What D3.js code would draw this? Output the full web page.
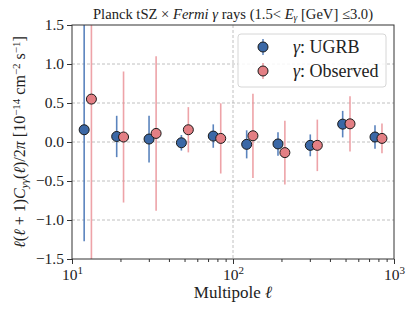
<!DOCTYPE html>
<html>
<head>
<meta charset="utf-8">
<script src="https://cdn.jsdelivr.net/npm/d3@7"></script>
<style>
  body { margin: 0; background: #fff; }
  svg text { font-family: "Liberation Serif", "DejaVu Serif", serif; fill: #222; }
</style>
</head>
<body>
<svg id="chart" width="415" height="312"></svg>
<script>
(function() {
  'use strict';

  // multipole bin centres for each sample (observed offset a little to the right)
  var ellUGRB = [11.9, 18.95, 30.1, 47.8, 75.4, 121.6, 190.3, 302, 480, 762];
  var ellObs  = [13.2, 20.9, 33.3, 52.8, 83.9, 133, 210, 334, 533, 842];

  var valUGRB = [0.157, 0.071, 0.038, -0.01, 0.076, -0.03, -0.025, -0.043, 0.229, 0.064];
  var errUGRB = [1.43, 0.265, 0.30, 0.10, 0.15, 0.18, 0.15, 0.14, 0.17, 0.15];

  var valObs = [0.55, 0.064, 0.11, 0.157, 0.046, 0.08, -0.136, -0.043, 0.233, 0.046];
  var errObs = [2.2, 0.84, 0.99, 0.29, 0.45, 0.54, 0.41, 0.33, 0.355, 0.19];

  var yTicks = [-1.5, -1.0, -0.5, 0.0, 0.5, 1.0, 1.5];
  var xTicks = [10, 100, 1000];

  var W = 415, H = 312;
  var margin = {top: 25, right: 21, bottom: 53, left: 72};
  var iw = W - margin.left - margin.right;
  var ih = H - margin.top - margin.bottom;

  var svg = d3.select("#chart");
  var g = svg.append("g")
    .attr("transform", "translate(" + margin.left + "," + margin.top + ")");

  var x = d3.scaleLog().domain([10, 1000]).range([0, iw]);
  var y = d3.scaleLinear().domain([-1.5, 1.5]).range([ih, 0]);

  svg.append("defs").append("clipPath").attr("id", "plotclip")
    .append("rect").attr("width", iw).attr("height", ih);

  // grid
  var grid = g.append("g").attr("class", "grid");
  grid.selectAll("line.gy").data(yTicks.slice(1, -1)).enter().append("line")
    .attr("x1", 0).attr("x2", iw)
    .attr("y1", function(d) { return y(d); }).attr("y2", function(d) { return y(d); })
    .attr("stroke", "#b0b0b0").attr("stroke-width", 0.8).attr("stroke-dasharray", "3,2");
  grid.selectAll("line.gx").data([100]).enter().append("line")
    .attr("y1", 0).attr("y2", ih)
    .attr("x1", function(d) { return x(d); }).attr("x2", function(d) { return x(d); })
    .attr("stroke", "#b0b0b0").attr("stroke-width", 0.8).attr("stroke-dasharray", "3,2");

  // error bars + points
  var series = [
    {ell: ellUGRB, val: valUGRB, err: errUGRB, bar: "#3f6fb3", fill: "#3b68a6"},
    {ell: ellObs, val: valObs, err: errObs, bar: "#ea8d93", fill: "#e37f84"}
  ];

  var plot = g.append("g").attr("clip-path", "url(#plotclip)");
  series.forEach(function(s, k) {
    var rows = s.ell.map(function(l, i) { return {l: l, v: s.val[i], e: s.err[i]}; });
    var sg = plot.append("g");
    sg.selectAll("line").data(rows).enter().append("line")
      .attr("x1", function(d) { return x(d.l); }).attr("x2", function(d) { return x(d.l); })
      .attr("y1", function(d) { return y(d.v + d.e); })
      .attr("y2", function(d) { return y(d.v - d.e); })
      .attr("stroke", s.bar).attr("stroke-width", 1.6).attr("opacity", k === 0 ? 0.85 : 0.8);
  });
  series.forEach(function(s) {
    var rows = s.ell.map(function(l, i) { return {l: l, v: s.val[i]}; });
    plot.append("g").selectAll("circle").data(rows).enter().append("circle")
      .attr("cx", function(d) { return x(d.l); })
      .attr("cy", function(d) { return y(d.v); })
      .attr("r", 5)
      .attr("fill", s.fill).attr("stroke", "#1a1a1a").attr("stroke-width", 1);
  });

  // frame
  g.append("rect").attr("width", iw).attr("height", ih)
    .attr("fill", "none").attr("stroke", "#333").attr("stroke-width", 1);

  // axes
  var yAxis = d3.axisLeft(y).tickValues(yTicks).tickSize(5).tickPadding(3)
    .tickFormat(function(d) { return d3.format(".1f")(d).replace("-", "\u2212"); });
  var ya = g.append("g").call(yAxis);
  ya.select(".domain").remove();
  ya.selectAll("text").style("font-size", "15.5px").attr("fill", "#222");
  ya.selectAll("line").attr("stroke", "#333");

  var minor = [];
  [10, 100].forEach(function(b) { for (var m = 2; m <= 9; m++) minor.push(b * m); });
  var xMinor = d3.axisBottom(x).tickValues(minor).tickSize(3).tickFormat("");
  var xm = g.append("g").attr("transform", "translate(0," + ih + ")").call(xMinor);
  xm.select(".domain").remove();
  xm.selectAll("line").attr("stroke", "#333");

  var xAxis = d3.axisBottom(x).tickValues(xTicks).tickSize(5).tickFormat("");
  var xa = g.append("g").attr("transform", "translate(0," + ih + ")").call(xAxis);
  xa.select(".domain").remove();
  xa.selectAll("line").attr("stroke", "#333");
  xa.selectAll(".tick").append("text")
    .attr("y", 21).attr("text-anchor", "middle").style("font-size", "15.5px")
    .each(function(d) {
      var t = d3.select(this);
      t.append("tspan").text("10");
      t.append("tspan").attr("dy", -6).style("font-size", "11px").text(Math.round(Math.log10(d)));
    });

  // axis titles
  svg.append("text")
    .attr("x", margin.left + iw / 2).attr("y", 298)
    .attr("text-anchor", "middle").style("font-size", "17px")
    .text("Multipole ")
    .append("tspan").style("font-style", "italic").text("\u2113");

  var yl = svg.append("text")
    .attr("transform", "translate(25," + (margin.top + ih / 2) + ") rotate(-90)")
    .attr("text-anchor", "middle").style("font-size", "16px");
  yl.append("tspan").style("font-style", "italic").text("\u2113");
  yl.append("tspan").text("(");
  yl.append("tspan").style("font-style", "italic").text("\u2113");
  yl.append("tspan").text(" + 1)");
  yl.append("tspan").style("font-style", "italic").text("C");
  yl.append("tspan").attr("dy", 3).style("font-size", "11px").style("font-style", "italic").text("y\u03b3");
  yl.append("tspan").attr("dy", -3).text("(");
  yl.append("tspan").style("font-style", "italic").text("\u2113");
  yl.append("tspan").text(")/2");
  yl.append("tspan").style("font-style", "italic").text("\u03c0");
  yl.append("tspan").text(" [10");
  yl.append("tspan").attr("dy", -5).style("font-size", "11px").text("\u221214");
  yl.append("tspan").attr("dy", 5).text(" cm");
  yl.append("tspan").attr("dy", -5).style("font-size", "11px").text("\u22122");
  yl.append("tspan").attr("dy", 5).text(" s");
  yl.append("tspan").attr("dy", -5).style("font-size", "11px").text("\u22121");
  yl.append("tspan").attr("dy", 5).text("]");

  // title
  var tt = svg.append("text")
    .attr("x", margin.left + iw / 2).attr("y", 19)
    .attr("text-anchor", "middle").style("font-size", "14.6px");
  tt.append("tspan").text("Planck tSZ \u00d7 ");
  tt.append("tspan").style("font-style", "italic").text("Fermi");
  tt.append("tspan").text(" ");
  tt.append("tspan").style("font-style", "italic").text("\u03b3");
  tt.append("tspan").text(" rays (1.5< ");
  tt.append("tspan").style("font-style", "italic").text("E");
  tt.append("tspan").attr("dy", 2).style("font-size", "9.5px").style("font-style", "italic").text("\u03b3");
  tt.append("tspan").attr("dy", -2).text(" [GeV] \u22643.0)");

  // legend
  var lg = svg.append("g").attr("transform", "translate(238,34)");
  lg.append("rect").attr("width", 148).attr("height", 53).attr("rx", 3)
    .attr("fill", "#fff").attr("fill-opacity", 0.85)
    .attr("stroke", "#d6d6d6").attr("stroke-width", 1);
  var labels = ["UGRB", "Observed"];
  series.forEach(function(s, i) {
    var row = lg.append("g").attr("transform", "translate(25," + (13 + i * 24) + ")");
    row.append("line").attr("y1", -8).attr("y2", 8)
      .attr("stroke", s.bar).attr("stroke-width", 1.6).attr("opacity", 0.8);
    row.append("circle").attr("r", 5)
      .attr("fill", s.fill).attr("stroke", "#1a1a1a").attr("stroke-width", 1);
    var t = row.append("text").attr("x", 30).attr("y", 6).style("font-size", "18px");
    t.append("tspan").style("font-style", "italic").text("\u03b3");
    t.append("tspan").text(": " + labels[i]);
  });
}());
</script>
</body>
</html>
